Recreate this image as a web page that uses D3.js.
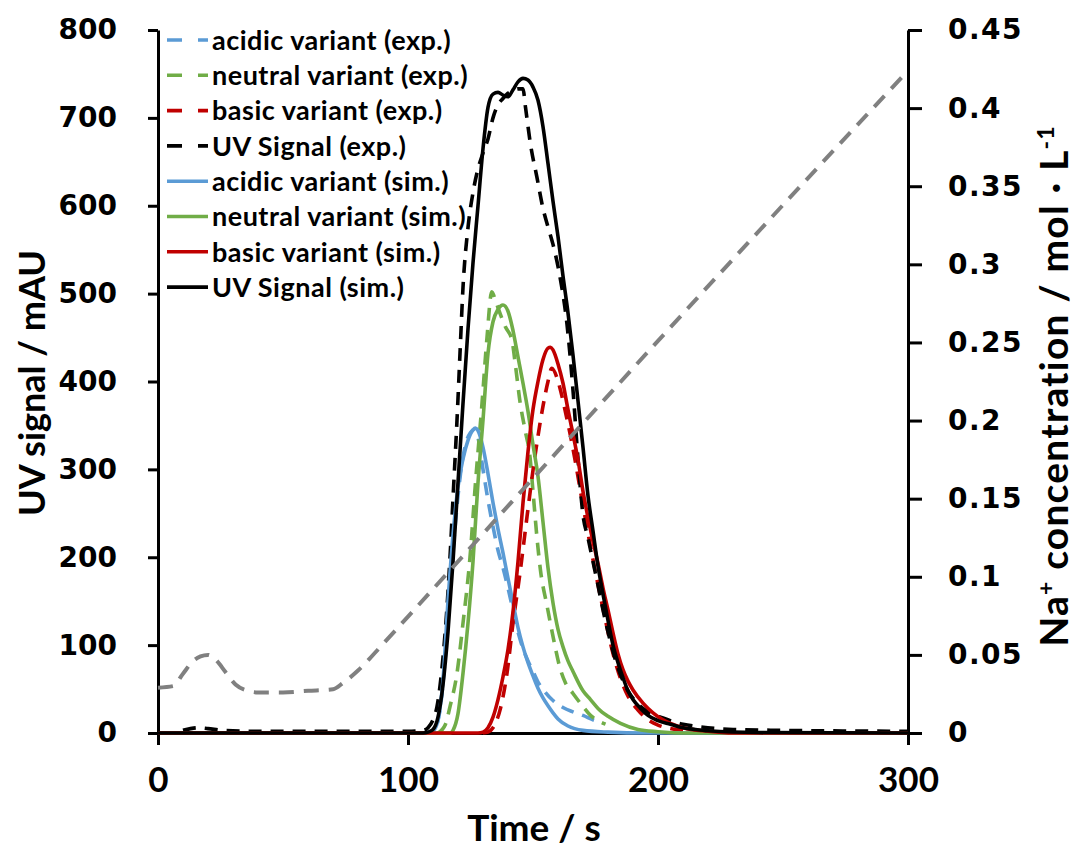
<!DOCTYPE html>
<html><head><meta charset="utf-8">
<script src="https://cdn.jsdelivr.net/npm/d3@7"></script>
<style>body{margin:0;background:#fff} svg{display:block}</style>
</head><body>
<svg id="c" width="1075" height="850"></svg>
<script>
// ---- tick values / labels ----
const xTicks = [0, 100, 200, 300];
const yTicks = [0, 100, 200, 300, 400, 500, 600, 700, 800];
const y2Ticks = [0, 0.05, 0.1, 0.15, 0.2, 0.25, 0.3, 0.35, 0.4, 0.45];
const y2TickLabels = ["0", "0.05", "0.1", "0.15", "0.2", "0.25", "0.3", "0.35", "0.4", "0.45"];

// ---- Na+ concentration (secondary axis), [time s, mol/L] ----
const naConc = [[0,0.029],[6,0.030],[10,0.038],[14,0.046],[17,0.049],[20,0.050],[23,0.047],[27,0.039],[31,0.031],[36,0.027],[40,0.026],[50,0.026],[60,0.027],[70,0.028],[74,0.032],[80,0.040],[90,0.057],[100,0.0745],[150,0.163],[200,0.251],[250,0.338],[300,0.424]];

// ---- experimental series [time s, mAU] ----
const acidicExp = [[105,0],[109,1],[111,6],[113,30],[115,90],[117,170],[119,240],[121,295],[123,328],[125,342],[126.5,345],[128,336],[130,300],[132,265],[134,235],[136,208],[138,188],[140,165],[142,140],[144,115],[146,96],[148,82],[150,70],[152,58],[155,46],[158,37],[162,29],[166,24],[170,20],[174,15],[177,12]];
const neutralExp = [[112,0],[115,10],[116.8,30],[119.6,68],[122,125],[124.8,200],[127,285],[129.6,375],[131.6,450],[133.5,502],[135,492],[137,476],[139,462],[141.5,448],[143,418],[144.8,377],[146.8,345],[148.8,314],[150,275],[151.6,222],[153,185],[155.6,145],[158,110],[160.8,74],[163,57],[166,45],[170,30],[173,20],[176,14],[179,10]];
const basicExp = [[130,0],[132,1],[134,6],[136.8,26],[139.6,68],[142,125],[144.8,182],[147.6,246],[150,299],[152,338],[154,372],[156,400],[157.5,415],[159.5,405],[161,390],[163,365],[165,338],[167,308],[169,275],[171,243],[173,212],[175,183],[177,155],[179,128],[181,102],[183,80],[185,62],[188,42],[192,26],[196,15],[200,9],[205,5],[210,3]];
const uvExp = [[10,3],[13,5],[16,6],[20,5],[26,3],[40,2],[100,2],[106,3],[108,6],[110,15],[111.6,30],[114,86],[115.6,143],[116.8,200],[118.2,278],[119.6,356],[120.8,432],[122,507],[124,575],[126,615],[128,642],[130,660],[132,676],[134,700],[136,715],[138,722],[140,728],[142,731],[144,733],[146,733],[147,712],[149,670],[151.6,632],[154,597],[156,576],[158,556],[160.8,519],[163.6,465],[166,390],[168,312],[170,248],[172,222],[174,195],[176,168],[178,140],[180,115],[184,74],[188,48],[192,33],[196,24],[202,17],[210,10],[217,7],[230,4],[250,3],[300,2]];

// ---- simulated series [time s, mAU] ----
const acidicSim = [[0,0],[108,0],[110,2],[112,15],[114,60],[116,150],[118,225],[120,280],[122,312],[124,333],[126,345],[127,347],[128,344],[130,325],[132,295],[134,262],[136,232],[138,205],[140,176],[142,148],[144,120],[146,98],[148,80],[150,65],[152,51],[154,40],[156,31],[158,23],[160,16],[164,8],[170,3],[180,1],[195,0],[300,0]];
const neutralSim = [[0,0],[117,0],[118,3],[120,22],[122,68],[124,125],[126,195],[128,285],[130,356],[132,432],[134,468],[136,482],[138,487],[140,480],[142,458],[144,428],[146,398],[148,366],[150,328],[152,292],[154,240],[156,188],[158,148],[160,118],[162,98],[164,82],[166,70],[170,48],[173,38],[176,28],[180,19],[185,11],[192,4],[200,1.5],[210,0],[300,0]];
const basicSim = [[0,0],[128,0],[130,1],[132,6],[134,18],[136,38],[138,64],[140,95],[142,138],[144,195],[146,262],[148,320],[150,368],[152,400],[154,425],[156,438],[157,439],[158,436],[160,420],[162,398],[164,368],[166,340],[168,311],[170,275],[172,245],[174,218],[176,193],[178,165],[180,140],[182,114],[184,90],[186,72],[188,59],[190,49],[194,34],[198,23],[202,15],[205,11],[210,6],[220,2],[230,0],[300,0]];
const uvSim = [[0,0],[106,0],[108,1],[110,4],[112,18],[114,55],[116,115],[118,195],[120,285],[122,375],[124,460],[126,535],[128,600],[130,665],[132,712],[134,727],[136,729],[138,726],[140,724],[142,732],[144,741],[146,745],[148,743],[150,735],[152,720],[154,690],[156,648],[158,605],[160,565],[162,520],[164,478],[166,430],[168,378],[170,325],[172,270],[174,230],[176,190],[178,158],[180,128],[182,100],[184,80],[186,63],[188,48],[190,38],[193,28],[196,20],[200,14],[205,10],[210,6],[215,4],[220,2.5],[240,0.5],[300,0]];

// ---- legend ----
const legendLabels = ["acidic variant (exp.)","neutral variant (exp.)","basic variant (exp.)","UV Signal (exp.)","acidic variant (sim.)","neutral variant (sim.)","basic variant (sim.)","UV Signal (sim.)"];
const seriesColors = ["#5B9BD5","#70AD47","#C00000","#000000","#5B9BD5","#70AD47","#C00000","#000000"];
const seriesDashed = [true,true,true,true,false,false,false,false];
const seriesData = [acidicExp, neutralExp, basicExp, uvExp, acidicSim, neutralSim, basicSim, uvSim];

const svg = d3.select("#c");
const x = d3.scaleLinear().domain([0,300]).range([158,908]);
const y = d3.scaleLinear().domain([0,800]).range([733,30]);
const y2 = d3.scaleLinear().domain([0,0.45]).range([733,30]);

const tickFont = "'DejaVu Sans', Verdana, sans-serif";
const labFont = "Lato, 'Open Sans', sans-serif";

// axes
const gx = svg.append("g").attr("transform","translate(0,733)")
  .call(d3.axisBottom(x).tickValues(xTicks).tickSizeInner(12).tickSizeOuter(0).tickPadding(22).tickFormat(d3.format("d")));
const gy = svg.append("g").attr("transform","translate(158,0)")
  .call(d3.axisLeft(y).tickValues(yTicks).tickSizeInner(10).tickSizeOuter(0).tickPadding(31).tickFormat(d3.format("d")));
const gy2 = svg.append("g").attr("transform","translate(908,0)")
  .call(d3.axisRight(y2).tickValues(y2Ticks).tickSizeInner(14).tickSizeOuter(0).tickPadding(26).tickFormat((d,i)=>y2TickLabels[i]));
[gx,gy,gy2].forEach(g=>{
  g.select(".domain").attr("stroke","#000").attr("stroke-width",3);
  g.selectAll(".tick line").attr("stroke","#000").attr("stroke-width",3);
});
gy.selectAll(".tick text").attr("font-family",tickFont).attr("font-weight","bold").attr("font-size",28).attr("fill","#000");
gy2.selectAll(".tick text").attr("font-family",tickFont).attr("font-weight","bold").attr("font-size",28).attr("fill","#000").attr("letter-spacing",1.5);
gx.selectAll(".tick text").attr("font-family",labFont).attr("font-weight","bold").attr("font-size",35).attr("fill","#000");

// axis titles
svg.append("text").attr("x",534).attr("y",841).attr("text-anchor","middle")
  .attr("font-family",labFont).attr("font-weight","bold").attr("font-size",37).text("Time / s");
svg.append("text").attr("transform","translate(45,383) rotate(-90)").attr("text-anchor","middle")
  .attr("font-family",labFont).attr("font-weight","bold").attr("font-size",36).text("UV signal / mAU");
const rt = svg.append("text").attr("transform","translate(1068,386) rotate(-90)").attr("text-anchor","middle")
  .attr("font-family",labFont).attr("font-weight","bold").attr("font-size",39).attr("letter-spacing",1.2);
rt.append("tspan").text("Na");
rt.append("tspan").attr("baseline-shift","super").attr("font-size",23).text("+");
rt.append("tspan").text(" concentration  / mol \u00B7 L");
rt.append("tspan").attr("baseline-shift","super").attr("font-size",23).text("-1");

// series
const line = d3.line().x(d=>x(d[0])).y(d=>y(d[1])).curve(d3.curveMonotoneX);
seriesData.forEach((data,i)=>{
  svg.append("path").datum(data).attr("d",line).attr("fill","none")
    .attr("stroke",seriesColors[i]).attr("stroke-width",3.6)
    .attr("stroke-linejoin","round")
    .attr("stroke-dasharray",seriesDashed[i]?"13,9":null);
});
const naLine = d3.line().x(d=>x(d[0])).y(d=>y2(d[1])).curve(d3.curveMonotoneX);
svg.append("path").datum(naConc).attr("d",naLine).attr("fill","none")
  .attr("stroke","#808080").attr("stroke-width",4).attr("stroke-dasharray","15,10");

// legend
const lg = svg.append("g");
legendLabels.forEach((lab,i)=>{
  const yy = 40 + i*35.3;
  lg.append("line").attr("x1",167).attr("x2",208).attr("y1",yy).attr("y2",yy)
    .attr("stroke",seriesColors[i]).attr("stroke-width",3.6)
    .attr("stroke-dasharray",seriesDashed[i]?"15,16":null);
  lg.append("text").attr("x",212).attr("y",yy).attr("dy","0.36em")
    .attr("font-family",labFont).attr("font-weight","bold").attr("font-size",27)
    .attr("letter-spacing",0.5).text(lab);
});
</script>
</body></html>
